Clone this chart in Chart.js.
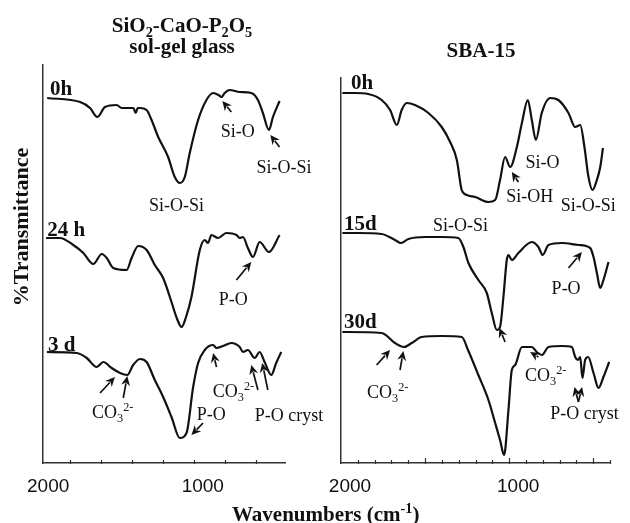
<!DOCTYPE html>
<html><head><meta charset="utf-8">
<script src="https://cdn.jsdelivr.net/npm/chart.js@4.4.1/dist/chart.umd.min.js"></script>
<style>
html,body{margin:0;padding:0;background:#fff;}
#wrap{position:relative;width:630px;height:523px;overflow:hidden;}
canvas{position:absolute;left:0;top:0;}
</style></head><body>
<div id="wrap"><canvas id="c1" width="630" height="523"></canvas><canvas id="c2" width="630" height="523"></canvas></div>
<script>
// ---------- DATA (wavenumber in cm-1, transmittance in arbitrary offset units) ----------
const glass0hW  = [1948,1735,1671,1624,1574,1499,1466,1390,1376,1362,1348,1305,1273,1230,1166,1123,1090,1058,1026,972,918,875,840,821,800,768,703,628,585,553,514,488,445];
const glass0hT  = [365,361,355,346,356,358,355,355,350,355,355,353,343,326,306,286,280,286,310,343,363,370,368,366,370,373,371,370,363,350,333,346,362];
const glass24hW = [1955,1865,1779,1714,1650,1595,1563,1521,1434,1402,1359,1305,1252,1198,1144,1110,1079,1050,1015,961,929,908,886,843,789,724,703,682,650,617,574,514,445];
const glass24hT = [225,225,218,210,199,209,205,195,193,205,217,213,198,185,161,145,136,146,166,213,223,220,228,225,230,228,225,226,215,206,221,211,228];
const glass3dW  = [1950,1757,1692,1628,1585,1531,1477,1430,1392,1348,1305,1252,1198,1144,1090,1047,1004,972,929,875,853,811,757,703,682,650,606,574,542,499,467,434];
const glass3dT  = [111,110,105,96,101,95,90,88,98,104,101,83,66,46,25,30,76,100,113,118,115,117,120,116,111,113,105,111,101,88,100,111];

const sba0hW  = [1992,1917,1838,1758,1708,1668,1639,1609,1560,1480,1401,1351,1311,1282,1252,1202,1123,1083,1054,1024,994,954,924,889,865,841,806,756,707,647,607,577,552,528,504,478,458,442];
const sba0hT  = [370,370,369,363,353,338,353,360,358,350,336,321,303,273,268,266,261,263,283,306,296,316,340,363,343,323,350,365,363,350,336,338,316,286,273,283,296,315];
const sba15dW = [1992,1897,1758,1679,1643,1599,1500,1401,1302,1272,1242,1183,1133,1103,1073,1054,1034,1014,1004,984,945,865,826,800,766,686,588,518,498,478,458,439,409];
const sba15dT = [230,230,229,223,220,224,226,226,225,216,200,183,170,150,133,136,166,203,208,203,210,221,216,208,218,220,218,215,206,190,175,183,201];
const sba30dW = [1992,1758,1679,1625,1579,1520,1401,1282,1242,1183,1123,1083,1054,1030,1004,984,964,924,865,836,805,766,686,627,607,591,577,564,548,530,498,468,439,405];
const sba30dT = [131,130,120,116,120,126,127,126,112,88,63,40,23,8,53,93,98,116,116,111,108,116,117,116,106,103,106,85,103,106,90,75,86,101];

const tickLabelValues = [2000, 1000];
const glassTicks = [1800,1600,1400,1200,1000,800,600];
const sbaMinorTicks = [1900,1800,1700,1600,1400,1300,1200,1100,900,800,700,600,400];
const sbaMajorTicks = [1500,1000,500];

// ---------- text helpers ----------
const SERIF = "'Liberation Serif','Times New Roman',serif";
const N = t => [t,'n'], SUB = t => [t,'sub'], SUP = t => [t,'sup'];
const CO3 = [N('CO'), SUB('3'), SUP('2-')];
function fnt(size,bold){return (bold?'bold ':'')+size+'px '+SERIF;}
function segSize(k,size){return k==='n'?size:size*0.68;}
function richW(ctx,segs,size,bold){let w=0;for(const [t,k] of segs){ctx.font=fnt(segSize(k,size),bold);w+=ctx.measureText(t).width;}return w;}
function drawRich(ctx,x,y,segs,size,bold,align){
  const w=richW(ctx,segs,size,bold);
  let cx = align==='center'? x-w/2 : (align==='right'? x-w : x);
  ctx.textAlign='left'; ctx.textBaseline='alphabetic'; ctx.fillStyle='#111';
  for(const [t,k] of segs){
    ctx.font=fnt(segSize(k,size),bold);
    const dy = k==='sub'? size*0.24 : (k==='sup'? -size*0.40 : 0);
    ctx.fillText(t,cx,y+dy); cx+=ctx.measureText(t).width;
  }
}
function arrow(ctx,x1,y1,x2,y2){
  const a=Math.atan2(y2-y1,x2-x1), L=9.5, H=4.5;
  const bx=x2-L*Math.cos(a), by=y2-L*Math.sin(a);
  ctx.strokeStyle='#111'; ctx.fillStyle='#111'; ctx.lineWidth=1.7;
  ctx.beginPath(); ctx.moveTo(x1,y1); ctx.lineTo(bx+2*Math.cos(a),by+2*Math.sin(a)); ctx.stroke();
  ctx.beginPath(); ctx.moveTo(x2,y2);
  ctx.lineTo(bx-H*Math.sin(a),by+H*Math.cos(a));
  ctx.lineTo(bx+3*Math.cos(a),by+3*Math.sin(a));
  ctx.lineTo(bx+H*Math.sin(a),by-H*Math.cos(a));
  ctx.closePath(); ctx.fill();
}

// ---------- annotations (anchored in data coordinates) ----------
const glassNotes = [
  {w:716,t:326,s:[N('Si-O')],a:'center'},
  {w:416,t:290,s:[N('Si-O-Si')],a:'center'},
  {w:1112,t:252,s:[N('Si-O-Si')],a:'center'},
  {w:745,t:158,s:[N('P-O')],a:'center'},
  {w:1658,t:45,s:CO3,a:'left'},
  {w:981,t:43,s:[N('P-O')],a:'left'},
  {w:877,t:66,s:CO3,a:'left'},
  {w:606,t:42,s:[N('P-O cryst')],a:'left'}
];
const glassSeriesNames = [{w:1929,t:368,s:'0h'},{w:1948,t:227,s:'24 h'},{w:1942,t:112,s:'3 d'}];
const glassArrows = [[757,351,815,362],[445,316,505,328],[724,183,628,201],[1606,70,1510,86],[1456,65,1430,87],[940,40,1015,28],[853,96,875,110],[585,73,628,98],[521,73,557,100]];

const sbaNotes = [
  {w:801,t:295,s:[N('Si-O')],a:'center'},
  {w:878,t:261,s:[N('Si-OH')],a:'center'},
  {w:530,t:252,s:[N('Si-O-Si')],a:'center'},
  {w:1289,t:232,s:[N('Si-O-Si')],a:'center'},
  {w:661,t:169,s:[N('P-O')],a:'center'},
  {w:1845,t:65,s:CO3,a:'left'},
  {w:905,t:82,s:CO3,a:'left'},
  {w:756,t:44,s:[N('P-O cryst')],a:'left'}
];
const sbaSeriesNames = [{w:1940,t:374,s:'0h'},{w:1982,t:233,s:'15d'},{w:1982,t:135,s:'30d'}];
const sbaArrows = [[945,281,984,291],[647,195,567,211],[1024,121,1058,135],[1788,98,1708,113],[1649,93,1629,112],[826,106,875,111],[588,61,611,76],[588,61,566,76]];

function annotPlugin(notes,names,arrows,minor,major,extra){
  return {id:'annot', afterDraw(chart){
    const ctx=chart.ctx, xs=chart.scales.x, ys=chart.scales.y;
    const X=v=>xs.getPixelForValue(v), Y=v=>ys.getPixelForValue(v);
    ctx.save();
    const y0=xs.top;
    ctx.strokeStyle='#333'; ctx.lineWidth=1.2;
    ctx.beginPath();
    for(const v of minor){const x=Math.round(X(v))+0.5; ctx.moveTo(x,y0-3); ctx.lineTo(x,y0+1);}
    for(const v of major){const x=Math.round(X(v))+0.5; ctx.moveTo(x,y0-5); ctx.lineTo(x,y0+1);}
    ctx.stroke();
    for(const n of notes) drawRich(ctx,X(n.w),Y(n.t),n.s,18,false,n.a);
    for(const n of names) drawRich(ctx,X(n.w),Y(n.t),[N(n.s)],21,true,'left');
    for(const a of arrows) arrow(ctx,X(a[0]),Y(a[1]),X(a[2]),Y(a[3]));
    if(extra) extra(ctx);
    ctx.restore();
  }};
}

function figureTextLeft(ctx){
  drawRich(ctx,182,31.5,[N('SiO'),SUB('2'),N('-CaO-P'),SUB('2'),N('O'),SUB('5')],21,true,'center');
  drawRich(ctx,182,52.5,[N('sol-gel glass')],21,true,'center');
  ctx.save(); ctx.translate(28,227); ctx.rotate(-Math.PI/2);
  drawRich(ctx,0,0,[N('%Transmittance')],22,true,'center');
  ctx.restore();
  drawRich(ctx,232,521,[N('Wavenumbers (cm'),SUP('-1'),N(')')],21,true,'left');
}
function figureTextRight(ctx){
  drawRich(ctx,481,57,[N('SBA-15')],21,true,'center');
}

function makeChart(id,series,xmin,xmax,ymax,pad,plugin){
  return new Chart(document.getElementById(id),{
    type:'line',
    data:{datasets:series.map(s=>({
      data:s[0].map((w,i)=>({x:w,y:s[1][i]})),
      borderColor:'#111',borderWidth:2.2,pointRadius:0,fill:false,
      tension:0.4,cubicInterpolationMode:'monotone'
    }))},
    options:{
      responsive:false,animation:false,devicePixelRatio:1,
      layout:{padding:pad},
      plugins:{legend:{display:false},tooltip:{enabled:false},title:{display:false}},
      scales:{
        x:{type:'linear',reverse:true,min:xmin,max:xmax,
          afterBuildTicks:s=>{s.ticks=tickLabelValues.map(v=>({value:v}));},
          afterFit:s=>{s.height=40;},
          grid:{display:false,drawTicks:false},
          border:{display:true,color:'#333',width:1.5},
          ticks:{autoSkip:false,maxRotation:0,padding:12,labelOffset:9,color:'#111',
            font:{family:"'Liberation Sans',Arial,sans-serif",size:19},callback:v=>String(v)}},
        y:{type:'linear',min:0,max:ymax,afterFit:s=>{s.width=0;},
          grid:{display:false,drawTicks:false},
          border:{display:true,color:'#333',width:1.5},
          ticks:{display:false}}
      }
    },
    plugins:[plugin]
  });
}

makeChart('c1',[[glass0hW,glass0hT],[glass24hW,glass24hT],[glass3dW,glass3dT]],
  410,1975,398,{left:43,right:345,top:65,bottom:20},
  annotPlugin(glassNotes,glassSeriesNames,glassArrows,glassTicks,[],figureTextLeft));
makeChart('c2',[[sba0hW,sba0hT],[sba15dW,sba15dT],[sba30dW,sba30dT]],
  400,2000,385,{left:341,right:20,top:78,bottom:20},
  annotPlugin(sbaNotes,sbaSeriesNames,sbaArrows,sbaMinorTicks,sbaMajorTicks,figureTextRight));
</script>
</body></html>
